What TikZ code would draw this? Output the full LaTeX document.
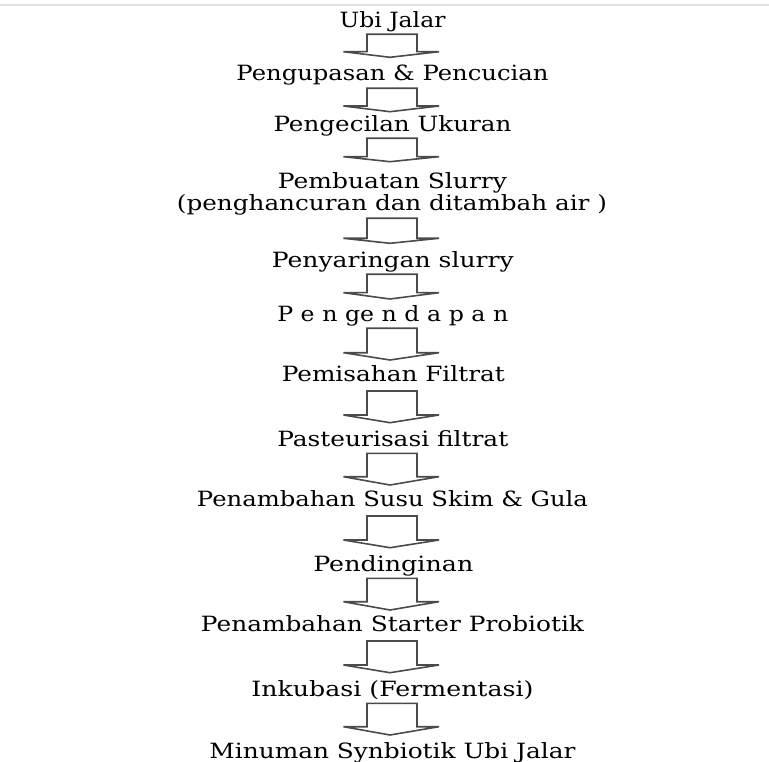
\documentclass[tikz,border=0pt]{standalone}
\usepackage{fontspec}
\setmainfont{DejaVu Serif}
\usepackage{graphicx}
\definecolor{arrowgray}{RGB}{75,75,75}
\definecolor{rulegray}{RGB}{228,228,228}
\newcommand{\fitw}[2]{\resizebox{#1pt}{\height}{#2}}
\newcommand{\blockarr}[4]{% name, top, base, tip
  \coordinate (#1) at (392,#2);
  \draw[arrowline] (367,#2) -- (367,#3) -- (343.5,#3) -- (390,#4) -- (439,#3) -- (417,#3) -- (417,#2) -- cycle;}
\begin{document}
\begin{tikzpicture}[x=1pt,y=-1pt,
  lbl/.style={inner sep=0pt, outer sep=0pt, anchor=base, font=\fontsize{21}{23}\selectfont, text=black},
  arrowline/.style={draw=arrowgray, line width=1.6pt, line join=miter}]
\useasboundingbox[fill=white] (0,0) rectangle (769,762);
\draw[rulegray, line width=2pt] (0,4.7) -- (769,4.7);

\node[lbl] (t1) at (392.5,27.3) {\fitw{106}{Ubi Jalar}};
\node[lbl] (t2) at (392.5,81) {\fitw{312}{Pengupasan \& Pencucian}};
\node[lbl] (t3) at (392.5,132) {\fitw{238}{Pengecilan Ukuran}};
\node[lbl] (t4a) at (392.5,189) {\fitw{229}{Pembuatan Slurry}};
\node[lbl] (t4b) at (392,211) {\fitw{430}{(penghancuran dan ditambah air )}};
\node[lbl] (t5) at (392.8,267.3) {\fitw{242}{Penyaringan slurry}};
\node[lbl] (t6) at (392.8,321.7) {\fitw{231}{P e n ge n d a p a n}};
\node[lbl] (t7) at (393.3,381.7) {\fitw{223}{Pemisahan Filtrat}};
\node[lbl] (t8) at (392.8,446.7) {\fitw{231}{Pasteurisasi filtrat}};
\node[lbl] (t9) at (392.5,506.7) {\fitw{391}{Penambahan Susu Skim \& Gula}};
\node[lbl] (t10) at (393.3,571) {\fitw{160}{Pendinginan}};
\node[lbl] (t11) at (392.5,631.7) {\fitw{383}{Penambahan Starter Probiotik}};
\node[lbl] (t12) at (392.5,696.7) {\fitw{282}{Inkubasi (Fermentasi)}};
\node[lbl] (t13) at (392.5,758.3) {\fitw{366}{Minuman Synbiotik Ubi Jalar}};

\blockarr{a1}{34.3}{51.7}{57.3}
\blockarr{a2}{88.3}{106}{111.7}
\blockarr{a3}{138.3}{156.7}{161.7}
\blockarr{a4}{218.3}{238.3}{243.3}
\blockarr{a5}{274.3}{292.7}{299}
\blockarr{a6}{328.3}{352.7}{360}
\blockarr{a7}{391}{415}{422.7}
\blockarr{a8}{453.3}{476.7}{485}
\blockarr{a9}{516}{540}{547.7}
\blockarr{a10}{578.3}{601.7}{610}
\blockarr{a11}{641}{665}{672.7}
\blockarr{a12}{703.3}{726.7}{735}
\end{tikzpicture}
\end{document}
